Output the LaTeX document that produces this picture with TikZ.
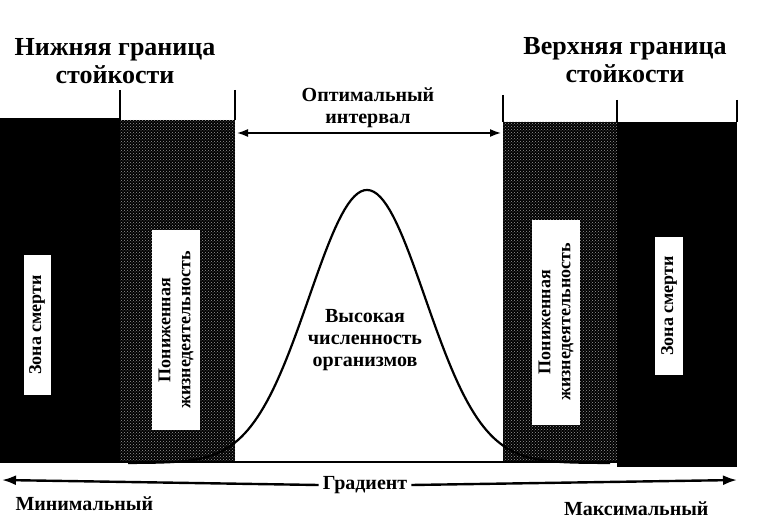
\documentclass[tikz,border=0pt]{standalone}
\usepackage{fontspec}
\setmainfont{Liberation Serif}
\usetikzlibrary{patterns,arrows.meta}

\begin{document}
\begin{tikzpicture}[x=1pt,y=-1pt,
	deadzone/.style={fill=black},
	lowzone/.style={preaction={fill=black},pattern=crosshatch dots,pattern color=white!60!black},
	tick/.style={line width=2pt},
	tag/.style={fill=white,rotate=90,align=center,inner sep=3pt,font=\bfseries\fontsize{18}{20}\selectfont},
	head/.style={align=center,font=\bfseries\fontsize{26}{28}\selectfont},
	mid/.style={align=center,font=\bfseries\fontsize{20}{22}\selectfont},
	axis/.style={line width=2.4pt,-{Latex[length=14pt,width=10pt]}}]
				\useasboundingbox (0,0) rectangle (766,524);

				% zones
				\fill[deadzone] (0,118) rectangle (120,462);
				\path[lowzone] (120,120) rectangle (235,462);
				\path[lowzone] (503,122) rectangle (617,462);
				\fill[deadzone] (617,122) rectangle (737,467);
				\draw[line width=1.5pt] (0,462) -- (737,462);

				% boundaries
				\coordinate (l1) at (120,90);
				\coordinate (l1b) at (120,120);
				\coordinate (l2) at (235,90);
				\coordinate (l2b) at (235,120);
				\coordinate (r1) at (503,95);
				\coordinate (r1b) at (503,122);
				\coordinate (r2) at (617,100);
				\coordinate (r2b) at (617,122);
				\coordinate (r3) at (737,100);
				\coordinate (r3b) at (737,122);
				\draw[tick] (l1) -- (l1b);
				\draw[tick] (l2) -- (l2b);
				\draw[tick] (r1) -- (r1b);
				\draw[tick] (r2) -- (r2b);
				\draw[tick] (r3) -- (r3b);

				\node[head] (low) at (115,61) {Нижняя граница\\стойкости};
				\node[head] (up) at (625,60) {Верхняя граница\\стойкости};
				\node[mid] (opt) at (368,108) {Оптимальный\\интервал};
				\coordinate (o1) at (237,133);
				\coordinate (o2) at (501,133);
				\draw[line width=1.6pt,{Latex[length=11pt,width=8pt]}-{Latex[length=11pt,width=8pt]}] (o1) -- (o2);

				% curve
				\draw[line width=2.2pt] plot[domain=128:610,samples=150] (\x,{463-273*exp(-((\x-367)/58)^2/2)});
				\node[mid] (high) at (365,340) {Высокая\\численность\\организмов};

				% labels in zones
				\node[tag,minimum width=140pt,minimum height=27pt,inner sep=1pt] (d1) at (37,325) {Зона смерти};
				\node[tag,minimum width=200pt,minimum height=48pt,inner sep=1pt] (p1) at (176,330) {Пониженная\\жизнедеятельность};
				\node[tag,minimum width=205pt,minimum height=48pt,inner sep=1pt] (p2) at (556,322) {Пониженная\\жизнедеятельность};
				\node[tag,minimum width=138pt,minimum height=28pt,inner sep=1pt] (d2) at (669,306) {Зона смерти};

				% gradient
				\node[mid,fill=white,inner sep=4pt] (grad) at (365,485) {Градиент};
				\coordinate (g1) at (2,480);
				\coordinate (g2) at (737,480);
				\draw[axis] (grad.west) -- (g1);
				\draw[axis] (grad.east) -- (g2);
				\node[mid,anchor=west] (min) at (12,504) {Минимальный};
				\node[mid,anchor=east] (max) at (712,509) {Максимальный};
			\end{tikzpicture}
\end{document}
